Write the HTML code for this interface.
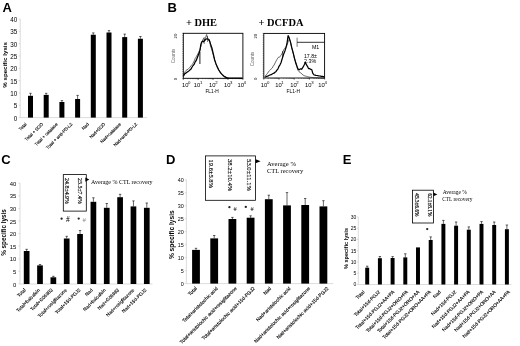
<!DOCTYPE html>
<html><head><meta charset="utf-8"><style>
html,body{margin:0;padding:0;background:#fff;overflow:hidden;width:520px;height:346px;}
svg{display:block;filter:blur(0.3px);}
</style></head><body>
<svg width="520" height="346" viewBox="0 0 520 346">
<rect width="520" height="346" fill="#fff"/>
<line x1="20.20" y1="19.00" x2="20.20" y2="117.60" stroke="#c4c4c4" stroke-width="0.6"/>
<line x1="18.70" y1="117.60" x2="20.20" y2="117.60" stroke="#c4c4c4" stroke-width="0.6"/>
<text x="17.30" y="120.67" font-size="6.3" text-anchor="end" font-family='"Liberation Sans", sans-serif' fill="#000">0</text>
<line x1="18.70" y1="105.27" x2="20.20" y2="105.27" stroke="#c4c4c4" stroke-width="0.6"/>
<text x="17.30" y="108.34" font-size="6.3" text-anchor="end" font-family='"Liberation Sans", sans-serif' fill="#000">5</text>
<line x1="18.70" y1="92.95" x2="20.20" y2="92.95" stroke="#c4c4c4" stroke-width="0.6"/>
<text x="17.30" y="96.02" font-size="6.3" text-anchor="end" font-family='"Liberation Sans", sans-serif' fill="#000">10</text>
<line x1="18.70" y1="80.62" x2="20.20" y2="80.62" stroke="#c4c4c4" stroke-width="0.6"/>
<text x="17.30" y="83.69" font-size="6.3" text-anchor="end" font-family='"Liberation Sans", sans-serif' fill="#000">15</text>
<line x1="18.70" y1="68.30" x2="20.20" y2="68.30" stroke="#c4c4c4" stroke-width="0.6"/>
<text x="17.30" y="71.37" font-size="6.3" text-anchor="end" font-family='"Liberation Sans", sans-serif' fill="#000">20</text>
<line x1="18.70" y1="55.97" x2="20.20" y2="55.97" stroke="#c4c4c4" stroke-width="0.6"/>
<text x="17.30" y="59.04" font-size="6.3" text-anchor="end" font-family='"Liberation Sans", sans-serif' fill="#000">25</text>
<line x1="18.70" y1="43.65" x2="20.20" y2="43.65" stroke="#c4c4c4" stroke-width="0.6"/>
<text x="17.30" y="46.72" font-size="6.3" text-anchor="end" font-family='"Liberation Sans", sans-serif' fill="#000">30</text>
<line x1="18.70" y1="31.33" x2="20.20" y2="31.33" stroke="#c4c4c4" stroke-width="0.6"/>
<text x="17.30" y="34.39" font-size="6.3" text-anchor="end" font-family='"Liberation Sans", sans-serif' fill="#000">35</text>
<line x1="18.70" y1="19.00" x2="20.20" y2="19.00" stroke="#c4c4c4" stroke-width="0.6"/>
<text x="17.30" y="22.07" font-size="6.3" text-anchor="end" font-family='"Liberation Sans", sans-serif' fill="#000">40</text>
<line x1="20.20" y1="117.60" x2="147.00" y2="117.60" stroke="#c4c4c4" stroke-width="0.6"/>
<rect x="28.00" y="95.80" width="5.00" height="21.80" fill="#000"/>
<line x1="30.50" y1="93.30" x2="30.50" y2="95.80" stroke="#000" stroke-width="0.6"/>
<line x1="29.30" y1="93.30" x2="31.70" y2="93.30" stroke="#000" stroke-width="0.6"/>
<rect x="43.70" y="94.90" width="5.00" height="22.70" fill="#000"/>
<line x1="46.20" y1="93.30" x2="46.20" y2="94.90" stroke="#000" stroke-width="0.6"/>
<line x1="45.00" y1="93.30" x2="47.40" y2="93.30" stroke="#000" stroke-width="0.6"/>
<rect x="59.40" y="102.00" width="5.00" height="15.60" fill="#000"/>
<line x1="61.90" y1="100.60" x2="61.90" y2="102.00" stroke="#000" stroke-width="0.6"/>
<line x1="60.70" y1="100.60" x2="63.10" y2="100.60" stroke="#000" stroke-width="0.6"/>
<rect x="75.10" y="99.00" width="5.00" height="18.60" fill="#000"/>
<line x1="77.60" y1="95.40" x2="77.60" y2="99.00" stroke="#000" stroke-width="0.6"/>
<line x1="76.40" y1="95.40" x2="78.80" y2="95.40" stroke="#000" stroke-width="0.6"/>
<rect x="90.80" y="34.75" width="5.00" height="82.85" fill="#000"/>
<line x1="93.30" y1="32.90" x2="93.30" y2="34.75" stroke="#000" stroke-width="0.6"/>
<line x1="92.10" y1="32.90" x2="94.50" y2="32.90" stroke="#000" stroke-width="0.6"/>
<rect x="106.50" y="32.50" width="5.00" height="85.10" fill="#000"/>
<line x1="109.00" y1="30.60" x2="109.00" y2="32.50" stroke="#000" stroke-width="0.6"/>
<line x1="107.80" y1="30.60" x2="110.20" y2="30.60" stroke="#000" stroke-width="0.6"/>
<rect x="122.20" y="37.10" width="5.00" height="80.50" fill="#000"/>
<line x1="124.70" y1="34.10" x2="124.70" y2="37.10" stroke="#000" stroke-width="0.6"/>
<line x1="123.50" y1="34.10" x2="125.90" y2="34.10" stroke="#000" stroke-width="0.6"/>
<rect x="137.90" y="38.75" width="5.00" height="78.85" fill="#000"/>
<line x1="140.40" y1="36.50" x2="140.40" y2="38.75" stroke="#000" stroke-width="0.6"/>
<line x1="139.20" y1="36.50" x2="141.60" y2="36.50" stroke="#000" stroke-width="0.6"/>
<text x="27.00" y="124.50" font-size="4.4" text-anchor="end" font-family='"Liberation Sans", sans-serif' fill="#000" transform="rotate(-45 27.00 124.50)" stroke="#000" stroke-width="0.12">Total</text>
<text x="43.40" y="124.50" font-size="4.4" text-anchor="end" font-family='"Liberation Sans", sans-serif' fill="#000" transform="rotate(-45 43.40 124.50)" stroke="#000" stroke-width="0.12">Total + SOD</text>
<text x="58.10" y="124.50" font-size="4.4" text-anchor="end" font-family='"Liberation Sans", sans-serif' fill="#000" transform="rotate(-45 58.10 124.50)" stroke="#000" stroke-width="0.12">Total + catalase</text>
<text x="72.80" y="124.50" font-size="4.4" text-anchor="end" font-family='"Liberation Sans", sans-serif' fill="#000" transform="rotate(-45 72.80 124.50)" stroke="#000" stroke-width="0.12">Total + anti-PD-L2</text>
<text x="89.20" y="124.50" font-size="4.4" text-anchor="end" font-family='"Liberation Sans", sans-serif' fill="#000" transform="rotate(-45 89.20 124.50)" stroke="#000" stroke-width="0.12">Nad</text>
<text x="105.60" y="124.50" font-size="4.4" text-anchor="end" font-family='"Liberation Sans", sans-serif' fill="#000" transform="rotate(-45 105.60 124.50)" stroke="#000" stroke-width="0.12">Nad+SOD</text>
<text x="121.20" y="124.50" font-size="4.4" text-anchor="end" font-family='"Liberation Sans", sans-serif' fill="#000" transform="rotate(-45 121.20 124.50)" stroke="#000" stroke-width="0.12">Nad+catalase</text>
<text x="137.60" y="124.50" font-size="4.4" text-anchor="end" font-family='"Liberation Sans", sans-serif' fill="#000" transform="rotate(-45 137.60 124.50)" stroke="#000" stroke-width="0.12">Nad+anti-PD-L2</text>
<text x="6.80" y="64.90" font-size="6.2" text-anchor="middle" font-family='"Liberation Sans", sans-serif' font-weight="bold" fill="#000" transform="rotate(-90 6.80 64.90)">% specific lysis</text>
<text x="2.60" y="11.60" font-size="13" text-anchor="start" font-family='"Liberation Sans", sans-serif' font-weight="bold" fill="#000">A</text>
<line x1="20.00" y1="183.20" x2="20.00" y2="284.00" stroke="#c4c4c4" stroke-width="0.6"/>
<line x1="18.50" y1="284.00" x2="20.00" y2="284.00" stroke="#c4c4c4" stroke-width="0.6"/>
<text x="16.20" y="286.62" font-size="5.9" text-anchor="end" font-family='"Liberation Sans", sans-serif' fill="#000">0</text>
<line x1="18.50" y1="271.40" x2="20.00" y2="271.40" stroke="#c4c4c4" stroke-width="0.6"/>
<text x="16.20" y="274.02" font-size="5.9" text-anchor="end" font-family='"Liberation Sans", sans-serif' fill="#000">5</text>
<line x1="18.50" y1="258.80" x2="20.00" y2="258.80" stroke="#c4c4c4" stroke-width="0.6"/>
<text x="16.20" y="261.42" font-size="5.9" text-anchor="end" font-family='"Liberation Sans", sans-serif' fill="#000">10</text>
<line x1="18.50" y1="246.20" x2="20.00" y2="246.20" stroke="#c4c4c4" stroke-width="0.6"/>
<text x="16.20" y="248.82" font-size="5.9" text-anchor="end" font-family='"Liberation Sans", sans-serif' fill="#000">15</text>
<line x1="18.50" y1="233.60" x2="20.00" y2="233.60" stroke="#c4c4c4" stroke-width="0.6"/>
<text x="16.20" y="236.22" font-size="5.9" text-anchor="end" font-family='"Liberation Sans", sans-serif' fill="#000">20</text>
<line x1="18.50" y1="221.00" x2="20.00" y2="221.00" stroke="#c4c4c4" stroke-width="0.6"/>
<text x="16.20" y="223.62" font-size="5.9" text-anchor="end" font-family='"Liberation Sans", sans-serif' fill="#000">25</text>
<line x1="18.50" y1="208.40" x2="20.00" y2="208.40" stroke="#c4c4c4" stroke-width="0.6"/>
<text x="16.20" y="211.02" font-size="5.9" text-anchor="end" font-family='"Liberation Sans", sans-serif' fill="#000">30</text>
<line x1="18.50" y1="195.80" x2="20.00" y2="195.80" stroke="#c4c4c4" stroke-width="0.6"/>
<text x="16.20" y="198.42" font-size="5.9" text-anchor="end" font-family='"Liberation Sans", sans-serif' fill="#000">35</text>
<line x1="18.50" y1="183.20" x2="20.00" y2="183.20" stroke="#c4c4c4" stroke-width="0.6"/>
<text x="16.20" y="185.82" font-size="5.9" text-anchor="end" font-family='"Liberation Sans", sans-serif' fill="#000">40</text>
<line x1="20.00" y1="284.00" x2="152.40" y2="284.00" stroke="#c4c4c4" stroke-width="0.6"/>
<rect x="23.80" y="251.00" width="5.70" height="33.00" fill="#000"/>
<line x1="26.65" y1="249.30" x2="26.65" y2="251.00" stroke="#000" stroke-width="0.6"/>
<line x1="25.45" y1="249.30" x2="27.85" y2="249.30" stroke="#000" stroke-width="0.6"/>
<rect x="37.15" y="265.40" width="5.70" height="18.60" fill="#000"/>
<line x1="40.00" y1="264.50" x2="40.00" y2="265.40" stroke="#000" stroke-width="0.6"/>
<line x1="38.80" y1="264.50" x2="41.20" y2="264.50" stroke="#000" stroke-width="0.6"/>
<rect x="50.50" y="277.30" width="5.70" height="6.70" fill="#000"/>
<line x1="53.35" y1="276.30" x2="53.35" y2="277.30" stroke="#000" stroke-width="0.6"/>
<line x1="52.15" y1="276.30" x2="54.55" y2="276.30" stroke="#000" stroke-width="0.6"/>
<rect x="63.85" y="238.50" width="5.70" height="45.50" fill="#000"/>
<line x1="66.70" y1="236.30" x2="66.70" y2="238.50" stroke="#000" stroke-width="0.6"/>
<line x1="65.50" y1="236.30" x2="67.90" y2="236.30" stroke="#000" stroke-width="0.6"/>
<rect x="77.20" y="234.00" width="5.70" height="50.00" fill="#000"/>
<line x1="80.05" y1="230.50" x2="80.05" y2="234.00" stroke="#000" stroke-width="0.6"/>
<line x1="78.85" y1="230.50" x2="81.25" y2="230.50" stroke="#000" stroke-width="0.6"/>
<rect x="90.55" y="201.80" width="5.70" height="82.20" fill="#000"/>
<line x1="93.40" y1="197.80" x2="93.40" y2="201.80" stroke="#000" stroke-width="0.6"/>
<line x1="92.20" y1="197.80" x2="94.60" y2="197.80" stroke="#000" stroke-width="0.6"/>
<rect x="103.90" y="207.80" width="5.70" height="76.20" fill="#000"/>
<line x1="106.75" y1="203.50" x2="106.75" y2="207.80" stroke="#000" stroke-width="0.6"/>
<line x1="105.55" y1="203.50" x2="107.95" y2="203.50" stroke="#000" stroke-width="0.6"/>
<rect x="117.25" y="197.20" width="5.70" height="86.80" fill="#000"/>
<line x1="120.10" y1="194.30" x2="120.10" y2="197.20" stroke="#000" stroke-width="0.6"/>
<line x1="118.90" y1="194.30" x2="121.30" y2="194.30" stroke="#000" stroke-width="0.6"/>
<rect x="130.60" y="206.40" width="5.70" height="77.60" fill="#000"/>
<line x1="133.45" y1="200.90" x2="133.45" y2="206.40" stroke="#000" stroke-width="0.6"/>
<line x1="132.25" y1="200.90" x2="134.65" y2="200.90" stroke="#000" stroke-width="0.6"/>
<rect x="143.95" y="207.80" width="5.70" height="76.20" fill="#000"/>
<line x1="146.80" y1="203.00" x2="146.80" y2="207.80" stroke="#000" stroke-width="0.6"/>
<line x1="145.60" y1="203.00" x2="148.00" y2="203.00" stroke="#000" stroke-width="0.6"/>
<text x="26.00" y="290.30" font-size="4.7" text-anchor="end" font-family='"Liberation Sans", sans-serif' fill="#000" transform="rotate(-45 26.00 290.30)" stroke="#000" stroke-width="0.12">Total</text>
<text x="40.40" y="290.30" font-size="4.7" text-anchor="end" font-family='"Liberation Sans", sans-serif' fill="#000" transform="rotate(-45 40.40 290.30)" stroke="#000" stroke-width="0.12">Total+baicalein</text>
<text x="53.00" y="290.30" font-size="4.7" text-anchor="end" font-family='"Liberation Sans", sans-serif' fill="#000" transform="rotate(-45 53.00 290.30)" stroke="#000" stroke-width="0.12">Total+G&#246;6983</text>
<text x="67.30" y="290.30" font-size="4.7" text-anchor="end" font-family='"Liberation Sans", sans-serif' fill="#000" transform="rotate(-45 67.30 290.30)" stroke="#000" stroke-width="0.12">Total+rosiglitazone</text>
<text x="80.80" y="290.30" font-size="4.7" text-anchor="end" font-family='"Liberation Sans", sans-serif' fill="#000" transform="rotate(-45 80.80 290.30)" stroke="#000" stroke-width="0.12">Total+15d-PGJ2</text>
<text x="93.00" y="290.30" font-size="4.7" text-anchor="end" font-family='"Liberation Sans", sans-serif' fill="#000" transform="rotate(-45 93.00 290.30)" stroke="#000" stroke-width="0.12">Nad</text>
<text x="106.20" y="290.30" font-size="4.7" text-anchor="end" font-family='"Liberation Sans", sans-serif' fill="#000" transform="rotate(-45 106.20 290.30)" stroke="#000" stroke-width="0.12">Nad+baicalein</text>
<text x="119.40" y="290.30" font-size="4.7" text-anchor="end" font-family='"Liberation Sans", sans-serif' fill="#000" transform="rotate(-45 119.40 290.30)" stroke="#000" stroke-width="0.12">Nad+G&#246;6983</text>
<text x="134.70" y="290.30" font-size="4.7" text-anchor="end" font-family='"Liberation Sans", sans-serif' fill="#000" transform="rotate(-45 134.70 290.30)" stroke="#000" stroke-width="0.12">Nad+rosiglitazone</text>
<text x="146.80" y="290.30" font-size="4.7" text-anchor="end" font-family='"Liberation Sans", sans-serif' fill="#000" transform="rotate(-45 146.80 290.30)" stroke="#000" stroke-width="0.12">Nad+15d-PGJ2</text>
<text x="6.00" y="232.50" font-size="6.3" text-anchor="middle" font-family='"Liberation Sans", sans-serif' font-weight="bold" fill="#000" transform="rotate(-90 6.00 232.50)">% specific lysis</text>
<text x="1.20" y="163.80" font-size="13" text-anchor="start" font-family='"Liberation Sans", sans-serif' font-weight="bold" fill="#000">C</text>
<line x1="186.40" y1="179.80" x2="186.40" y2="283.60" stroke="#c4c4c4" stroke-width="0.6"/>
<line x1="184.90" y1="283.60" x2="186.40" y2="283.60" stroke="#c4c4c4" stroke-width="0.6"/>
<text x="183.80" y="285.54" font-size="5.4" text-anchor="end" font-family='"Liberation Sans", sans-serif' fill="#000">0</text>
<line x1="184.90" y1="270.62" x2="186.40" y2="270.62" stroke="#c4c4c4" stroke-width="0.6"/>
<text x="183.80" y="272.57" font-size="5.4" text-anchor="end" font-family='"Liberation Sans", sans-serif' fill="#000">5</text>
<line x1="184.90" y1="257.65" x2="186.40" y2="257.65" stroke="#c4c4c4" stroke-width="0.6"/>
<text x="183.80" y="259.59" font-size="5.4" text-anchor="end" font-family='"Liberation Sans", sans-serif' fill="#000">10</text>
<line x1="184.90" y1="244.68" x2="186.40" y2="244.68" stroke="#c4c4c4" stroke-width="0.6"/>
<text x="183.80" y="246.62" font-size="5.4" text-anchor="end" font-family='"Liberation Sans", sans-serif' fill="#000">15</text>
<line x1="184.90" y1="231.70" x2="186.40" y2="231.70" stroke="#c4c4c4" stroke-width="0.6"/>
<text x="183.80" y="233.64" font-size="5.4" text-anchor="end" font-family='"Liberation Sans", sans-serif' fill="#000">20</text>
<line x1="184.90" y1="218.73" x2="186.40" y2="218.73" stroke="#c4c4c4" stroke-width="0.6"/>
<text x="183.80" y="220.67" font-size="5.4" text-anchor="end" font-family='"Liberation Sans", sans-serif' fill="#000">25</text>
<line x1="184.90" y1="205.75" x2="186.40" y2="205.75" stroke="#c4c4c4" stroke-width="0.6"/>
<text x="183.80" y="207.69" font-size="5.4" text-anchor="end" font-family='"Liberation Sans", sans-serif' fill="#000">30</text>
<line x1="184.90" y1="192.78" x2="186.40" y2="192.78" stroke="#c4c4c4" stroke-width="0.6"/>
<text x="183.80" y="194.72" font-size="5.4" text-anchor="end" font-family='"Liberation Sans", sans-serif' fill="#000">35</text>
<line x1="184.90" y1="179.80" x2="186.40" y2="179.80" stroke="#c4c4c4" stroke-width="0.6"/>
<text x="183.80" y="181.74" font-size="5.4" text-anchor="end" font-family='"Liberation Sans", sans-serif' fill="#000">40</text>
<line x1="186.40" y1="283.60" x2="333.30" y2="283.60" stroke="#c4c4c4" stroke-width="0.6"/>
<rect x="192.10" y="249.90" width="7.80" height="33.70" fill="#000"/>
<line x1="196.00" y1="248.30" x2="196.00" y2="249.90" stroke="#000" stroke-width="0.6"/>
<line x1="194.80" y1="248.30" x2="197.20" y2="248.30" stroke="#000" stroke-width="0.6"/>
<rect x="210.30" y="238.40" width="7.80" height="45.20" fill="#000"/>
<line x1="214.20" y1="235.50" x2="214.20" y2="238.40" stroke="#000" stroke-width="0.6"/>
<line x1="213.00" y1="235.50" x2="215.40" y2="235.50" stroke="#000" stroke-width="0.6"/>
<rect x="228.50" y="219.00" width="7.80" height="64.60" fill="#000"/>
<line x1="232.40" y1="217.40" x2="232.40" y2="219.00" stroke="#000" stroke-width="0.6"/>
<line x1="231.20" y1="217.40" x2="233.60" y2="217.40" stroke="#000" stroke-width="0.6"/>
<rect x="246.70" y="217.70" width="7.80" height="65.90" fill="#000"/>
<line x1="250.60" y1="215.80" x2="250.60" y2="217.70" stroke="#000" stroke-width="0.6"/>
<line x1="249.40" y1="215.80" x2="251.80" y2="215.80" stroke="#000" stroke-width="0.6"/>
<rect x="264.90" y="199.20" width="7.80" height="84.40" fill="#000"/>
<line x1="268.80" y1="195.20" x2="268.80" y2="199.20" stroke="#000" stroke-width="0.6"/>
<line x1="267.60" y1="195.20" x2="270.00" y2="195.20" stroke="#000" stroke-width="0.6"/>
<rect x="283.10" y="205.40" width="7.80" height="78.20" fill="#000"/>
<line x1="287.00" y1="192.60" x2="287.00" y2="205.40" stroke="#000" stroke-width="0.6"/>
<line x1="285.80" y1="192.60" x2="288.20" y2="192.60" stroke="#000" stroke-width="0.6"/>
<rect x="301.30" y="205.00" width="7.80" height="78.60" fill="#000"/>
<line x1="305.20" y1="198.50" x2="305.20" y2="205.00" stroke="#000" stroke-width="0.6"/>
<line x1="304.00" y1="198.50" x2="306.40" y2="198.50" stroke="#000" stroke-width="0.6"/>
<rect x="319.50" y="206.40" width="7.80" height="77.20" fill="#000"/>
<line x1="323.40" y1="200.70" x2="323.40" y2="206.40" stroke="#000" stroke-width="0.6"/>
<line x1="322.20" y1="200.70" x2="324.60" y2="200.70" stroke="#000" stroke-width="0.6"/>
<text x="197.40" y="288.80" font-size="4.9" text-anchor="end" font-family='"Liberation Sans", sans-serif' fill="#000" transform="rotate(-45 197.40 288.80)" stroke="#000" stroke-width="0.12">Total</text>
<text x="218.30" y="288.80" font-size="4.9" text-anchor="end" font-family='"Liberation Sans", sans-serif' fill="#000" transform="rotate(-45 218.30 288.80)" stroke="#000" stroke-width="0.12">Total+aristolochic acid</text>
<text x="237.10" y="288.80" font-size="4.9" text-anchor="end" font-family='"Liberation Sans", sans-serif' fill="#000" transform="rotate(-45 237.10 288.80)" stroke="#000" stroke-width="0.12">Total+aristolochic acid+rosiglitazone</text>
<text x="255.30" y="288.80" font-size="4.9" text-anchor="end" font-family='"Liberation Sans", sans-serif' fill="#000" transform="rotate(-45 255.30 288.80)" stroke="#000" stroke-width="0.12">Total+aristolochic acid+15d-PGJ2</text>
<text x="271.50" y="288.80" font-size="4.9" text-anchor="end" font-family='"Liberation Sans", sans-serif' fill="#000" transform="rotate(-45 271.50 288.80)" stroke="#000" stroke-width="0.12">Nad</text>
<text x="291.00" y="288.80" font-size="4.9" text-anchor="end" font-family='"Liberation Sans", sans-serif' fill="#000" transform="rotate(-45 291.00 288.80)" stroke="#000" stroke-width="0.12">Nad+aristolochic acid</text>
<text x="310.50" y="288.80" font-size="4.9" text-anchor="end" font-family='"Liberation Sans", sans-serif' fill="#000" transform="rotate(-45 310.50 288.80)" stroke="#000" stroke-width="0.12">Nad+aristolochic acid+rosiglitazone</text>
<text x="329.00" y="288.80" font-size="4.9" text-anchor="end" font-family='"Liberation Sans", sans-serif' fill="#000" transform="rotate(-45 329.00 288.80)" stroke="#000" stroke-width="0.12">Nad+aristolochic acid+15d-PGJ2</text>
<text x="174.00" y="234.70" font-size="6.6" text-anchor="middle" font-family='"Liberation Sans", sans-serif' font-weight="bold" fill="#000" transform="rotate(-90 174.00 234.70)">% specific lysis</text>
<text x="166.00" y="164.20" font-size="13" text-anchor="start" font-family='"Liberation Sans", sans-serif' font-weight="bold" fill="#000">D</text>
<line x1="358.30" y1="216.90" x2="358.30" y2="284.50" stroke="#c4c4c4" stroke-width="0.6"/>
<line x1="356.80" y1="284.50" x2="358.30" y2="284.50" stroke="#c4c4c4" stroke-width="0.6"/>
<text x="356.30" y="286.30" font-size="5.0" text-anchor="end" font-family='"Liberation Sans", sans-serif' fill="#000">0</text>
<line x1="356.80" y1="273.23" x2="358.30" y2="273.23" stroke="#c4c4c4" stroke-width="0.6"/>
<text x="356.30" y="275.03" font-size="5.0" text-anchor="end" font-family='"Liberation Sans", sans-serif' fill="#000">5</text>
<line x1="356.80" y1="261.97" x2="358.30" y2="261.97" stroke="#c4c4c4" stroke-width="0.6"/>
<text x="356.30" y="263.77" font-size="5.0" text-anchor="end" font-family='"Liberation Sans", sans-serif' fill="#000">10</text>
<line x1="356.80" y1="250.70" x2="358.30" y2="250.70" stroke="#c4c4c4" stroke-width="0.6"/>
<text x="356.30" y="252.50" font-size="5.0" text-anchor="end" font-family='"Liberation Sans", sans-serif' fill="#000">15</text>
<line x1="356.80" y1="239.43" x2="358.30" y2="239.43" stroke="#c4c4c4" stroke-width="0.6"/>
<text x="356.30" y="241.23" font-size="5.0" text-anchor="end" font-family='"Liberation Sans", sans-serif' fill="#000">20</text>
<line x1="356.80" y1="228.17" x2="358.30" y2="228.17" stroke="#c4c4c4" stroke-width="0.6"/>
<text x="356.30" y="229.97" font-size="5.0" text-anchor="end" font-family='"Liberation Sans", sans-serif' fill="#000">25</text>
<line x1="356.80" y1="216.90" x2="358.30" y2="216.90" stroke="#c4c4c4" stroke-width="0.6"/>
<text x="356.30" y="218.70" font-size="5.0" text-anchor="end" font-family='"Liberation Sans", sans-serif' fill="#000">30</text>
<line x1="358.30" y1="284.50" x2="511.40" y2="284.50" stroke="#c4c4c4" stroke-width="0.6"/>
<rect x="365.22" y="267.70" width="3.95" height="16.80" fill="#000"/>
<line x1="367.20" y1="266.20" x2="367.20" y2="267.70" stroke="#000" stroke-width="0.6"/>
<line x1="366.00" y1="266.20" x2="368.40" y2="266.20" stroke="#000" stroke-width="0.6"/>
<rect x="377.92" y="258.20" width="3.95" height="26.30" fill="#000"/>
<line x1="379.90" y1="256.50" x2="379.90" y2="258.20" stroke="#000" stroke-width="0.6"/>
<line x1="378.70" y1="256.50" x2="381.10" y2="256.50" stroke="#000" stroke-width="0.6"/>
<rect x="390.62" y="258.00" width="3.95" height="26.50" fill="#000"/>
<line x1="392.60" y1="256.60" x2="392.60" y2="258.00" stroke="#000" stroke-width="0.6"/>
<line x1="391.40" y1="256.60" x2="393.80" y2="256.60" stroke="#000" stroke-width="0.6"/>
<rect x="403.32" y="257.40" width="3.95" height="27.10" fill="#000"/>
<line x1="405.30" y1="253.80" x2="405.30" y2="257.40" stroke="#000" stroke-width="0.6"/>
<line x1="404.10" y1="253.80" x2="406.50" y2="253.80" stroke="#000" stroke-width="0.6"/>
<rect x="416.02" y="247.40" width="3.95" height="37.10" fill="#000"/>
<rect x="428.72" y="240.00" width="3.95" height="44.50" fill="#000"/>
<line x1="430.70" y1="236.90" x2="430.70" y2="240.00" stroke="#000" stroke-width="0.6"/>
<line x1="429.50" y1="236.90" x2="431.90" y2="236.90" stroke="#000" stroke-width="0.6"/>
<rect x="441.42" y="223.90" width="3.95" height="60.60" fill="#000"/>
<line x1="443.40" y1="220.40" x2="443.40" y2="223.90" stroke="#000" stroke-width="0.6"/>
<line x1="442.20" y1="220.40" x2="444.60" y2="220.40" stroke="#000" stroke-width="0.6"/>
<rect x="454.12" y="225.70" width="3.95" height="58.80" fill="#000"/>
<line x1="456.10" y1="222.00" x2="456.10" y2="225.70" stroke="#000" stroke-width="0.6"/>
<line x1="454.90" y1="222.00" x2="457.30" y2="222.00" stroke="#000" stroke-width="0.6"/>
<rect x="466.82" y="229.70" width="3.95" height="54.80" fill="#000"/>
<line x1="468.80" y1="226.90" x2="468.80" y2="229.70" stroke="#000" stroke-width="0.6"/>
<line x1="467.60" y1="226.90" x2="470.00" y2="226.90" stroke="#000" stroke-width="0.6"/>
<rect x="479.52" y="223.90" width="3.95" height="60.60" fill="#000"/>
<line x1="481.50" y1="221.60" x2="481.50" y2="223.90" stroke="#000" stroke-width="0.6"/>
<line x1="480.30" y1="221.60" x2="482.70" y2="221.60" stroke="#000" stroke-width="0.6"/>
<rect x="492.22" y="225.00" width="3.95" height="59.50" fill="#000"/>
<line x1="494.20" y1="222.00" x2="494.20" y2="225.00" stroke="#000" stroke-width="0.6"/>
<line x1="493.00" y1="222.00" x2="495.40" y2="222.00" stroke="#000" stroke-width="0.6"/>
<rect x="504.92" y="229.20" width="3.95" height="55.30" fill="#000"/>
<line x1="506.90" y1="225.00" x2="506.90" y2="229.20" stroke="#000" stroke-width="0.6"/>
<line x1="505.70" y1="225.00" x2="508.10" y2="225.00" stroke="#000" stroke-width="0.6"/>
<text x="365.00" y="292.30" font-size="4.8" text-anchor="end" font-family='"Liberation Sans", sans-serif' fill="#000" transform="rotate(-45 365.00 292.30)" stroke="#000" stroke-width="0.12">Total</text>
<text x="380.40" y="292.30" font-size="4.8" text-anchor="end" font-family='"Liberation Sans", sans-serif' fill="#000" transform="rotate(-45 380.40 292.30)" stroke="#000" stroke-width="0.12">Total+15d-PGJ2</text>
<text x="394.80" y="292.30" font-size="4.8" text-anchor="end" font-family='"Liberation Sans", sans-serif' fill="#000" transform="rotate(-45 394.80 292.30)" stroke="#000" stroke-width="0.12">Total+15d-PGJ2+AA+PA</text>
<text x="408.30" y="292.30" font-size="4.8" text-anchor="end" font-family='"Liberation Sans", sans-serif' fill="#000" transform="rotate(-45 408.30 292.30)" stroke="#000" stroke-width="0.12">Total+15d-PGJ2+ORO+PA</text>
<text x="419.80" y="292.30" font-size="4.8" text-anchor="end" font-family='"Liberation Sans", sans-serif' fill="#000" transform="rotate(-45 419.80 292.30)" stroke="#000" stroke-width="0.12">Total+15d-PGJ2+ORO+AA</text>
<text x="431.40" y="292.30" font-size="4.8" text-anchor="end" font-family='"Liberation Sans", sans-serif' fill="#000" transform="rotate(-45 431.40 292.30)" stroke="#000" stroke-width="0.12">Total+15d-PGJ2+ORO+AA+PA</text>
<text x="441.20" y="292.30" font-size="4.8" text-anchor="end" font-family='"Liberation Sans", sans-serif' fill="#000" transform="rotate(-45 441.20 292.30)" stroke="#000" stroke-width="0.12">Nad</text>
<text x="456.60" y="292.30" font-size="4.8" text-anchor="end" font-family='"Liberation Sans", sans-serif' fill="#000" transform="rotate(-45 456.60 292.30)" stroke="#000" stroke-width="0.12">Nad+15d-PGJ2</text>
<text x="470.00" y="292.30" font-size="4.8" text-anchor="end" font-family='"Liberation Sans", sans-serif' fill="#000" transform="rotate(-45 470.00 292.30)" stroke="#000" stroke-width="0.12">Nad+15d-PGJ2+AA+PA</text>
<text x="483.50" y="292.30" font-size="4.8" text-anchor="end" font-family='"Liberation Sans", sans-serif' fill="#000" transform="rotate(-45 483.50 292.30)" stroke="#000" stroke-width="0.12">Nad+15d-PGJ2+ORO+PA</text>
<text x="496.00" y="292.30" font-size="4.8" text-anchor="end" font-family='"Liberation Sans", sans-serif' fill="#000" transform="rotate(-45 496.00 292.30)" stroke="#000" stroke-width="0.12">Nad+15d-PGJ2+ORO+AA</text>
<text x="510.40" y="292.30" font-size="4.8" text-anchor="end" font-family='"Liberation Sans", sans-serif' fill="#000" transform="rotate(-45 510.40 292.30)" stroke="#000" stroke-width="0.12">Nad+15d-PGJ2+ORO+AA+PA</text>
<text x="348.20" y="248.50" font-size="5.55" text-anchor="middle" font-family='"Liberation Sans", sans-serif' font-weight="bold" fill="#000" transform="rotate(-90 348.20 248.50)">% specific lysis</text>
<text x="342.80" y="164.20" font-size="13" text-anchor="start" font-family='"Liberation Sans", sans-serif' font-weight="bold" fill="#000">E</text>
<rect x="63.30" y="174.60" width="23.00" height="36.50" fill="none" stroke="#000" stroke-width="0.8"/>
<text x="65.10" y="191.00" font-size="5.9" text-anchor="middle" font-family='"Liberation Serif", serif' fill="#000" transform="rotate(90 65.10 191.00)" stroke="#000" stroke-width="0.15">24.8&#177;4.9%</text>
<text x="78.20" y="191.00" font-size="5.9" text-anchor="middle" font-family='"Liberation Serif", serif' fill="#000" transform="rotate(90 78.20 191.00)" stroke="#000" stroke-width="0.15">25.5&#177;7.4%</text>
<polygon points="85.3,177.5 89.3,179.6 85.3,181.7" fill="#000"/>
<text x="91.10" y="183.70" font-size="6.0" text-anchor="start" font-family='"Liberation Serif", serif' fill="#000">Average % CTL recovery</text>
<circle cx="61.60" cy="218.70" r="1.15" fill="#222"/>
<text x="67.80" y="222.00" font-size="7.5" text-anchor="middle" font-family='"Liberation Serif", serif' fill="#000">#</text>
<circle cx="78.70" cy="218.60" r="1.15" fill="#222"/>
<text x="84.30" y="222.00" font-size="7.0" text-anchor="middle" font-family='"Liberation Serif", serif' fill="#888">#</text>
<rect x="205.40" y="155.90" width="50.10" height="44.40" fill="none" stroke="#000" stroke-width="0.8"/>
<text x="208.80" y="173.80" font-size="6.5" text-anchor="middle" font-family='"Liberation Serif", serif' fill="#000" transform="rotate(90 208.80 173.80)" stroke="#000" stroke-width="0.15">19.6&#177;5.8%</text>
<text x="228.30" y="175.10" font-size="6.6" text-anchor="middle" font-family='"Liberation Serif", serif' fill="#000" transform="rotate(90 228.30 175.10)" stroke="#000" stroke-width="0.15">38.2&#177;10.4%</text>
<text x="247.20" y="175.10" font-size="6.6" text-anchor="middle" font-family='"Liberation Serif", serif' fill="#000" transform="rotate(90 247.20 175.10)" stroke="#000" stroke-width="0.15">53.0&#177;11.1%</text>
<polygon points="255.6,159.2 260.6,161.2 255.6,163.2" fill="#000"/>
<text x="267.10" y="165.90" font-size="6.55" text-anchor="start" font-family='"Liberation Serif", serif' fill="#000">Average %</text>
<text x="266.90" y="173.20" font-size="6.5" text-anchor="start" font-family='"Liberation Serif", serif' fill="#000">CTL recovery</text>
<circle cx="229.40" cy="207.20" r="1.15" fill="#222"/>
<text x="235.20" y="210.50" font-size="6.5" text-anchor="middle" font-family='"Liberation Serif", serif' fill="#000">#</text>
<circle cx="245.80" cy="206.90" r="1.15" fill="#222"/>
<text x="252.00" y="210.80" font-size="6.5" text-anchor="middle" font-family='"Liberation Serif", serif' fill="#000">#</text>
<rect x="412.50" y="190.20" width="21.00" height="32.80" fill="none" stroke="#000" stroke-width="0.8"/>
<text x="415.40" y="204.80" font-size="5.25" text-anchor="middle" font-family='"Liberation Serif", serif' fill="#000" transform="rotate(90 415.40 204.80)" stroke="#000" stroke-width="0.15">45.3&#177;6.6%</text>
<text x="427.80" y="204.80" font-size="5.25" text-anchor="middle" font-family='"Liberation Serif", serif' fill="#000" transform="rotate(90 427.80 204.80)" stroke="#000" stroke-width="0.15">62.1&#177;8.1%</text>
<polygon points="433.4,192.6 437.3,194.4 433.4,196.2" fill="#000"/>
<text x="442.80" y="193.80" font-size="5.45" text-anchor="start" font-family='"Liberation Serif", serif' fill="#000">Average %</text>
<text x="442.20" y="200.80" font-size="5.4" text-anchor="start" font-family='"Liberation Serif", serif' fill="#000">CTL recovery</text>
<circle cx="427.20" cy="229.10" r="1.15" fill="#222"/>
<text x="167.40" y="11.90" font-size="13" text-anchor="start" font-family='"Liberation Sans", sans-serif' font-weight="bold" fill="#000">B</text>
<text x="185.90" y="26.20" font-size="10.4" text-anchor="start" font-family='"Liberation Serif", serif' font-weight="bold" fill="#000">+ DHE</text>
<text x="258.60" y="26.20" font-size="10.4" text-anchor="start" font-family='"Liberation Serif", serif' font-weight="bold" fill="#000">+ DCFDA</text>
<polyline points="183.4,75.1 185.0,71.8 186.0,70.4 187.0,69.7 188.0,69.3 189.0,68.2 190.0,67.2 191.0,65.8 192.1,64.6 193.1,63.1 194.1,61.1 195.2,58.5 196.2,56.9 197.3,54.9 198.7,52.3 200.0,49.2 201.4,44.6 202.4,40.6 203.5,38.4 204.6,40.2 205.6,37.4 206.6,34.5 207.5,38.0 208.5,40.7 209.5,40.3 210.5,46.0 211.9,50.0 213.3,55.1 214.6,60.1 216.0,63.9 217.4,67.8 219.0,70.8 220.0,72.3 221.0,73.7 222.0,74.4 223.0,75.1 224.0,76.1 225.0,76.5 226.0,77.0 227.0,77.5 228.0,77.9 229.0,78.2" fill="none" stroke="#444" stroke-width="0.8" stroke-linejoin="round"/>
<polyline points="183.4,76.3 184.8,73.8 185.9,73.1 186.9,72.2 187.9,71.6 188.9,70.9 189.9,70.0 191.0,69.1 192.1,67.0 193.1,65.5 194.1,64.4 195.2,61.8 196.2,60.5 197.3,57.7 198.7,54.1 200.0,50.3 200.8,44.6 201.6,42.1 202.6,41.1 203.5,41.8 204.9,40.3 206.3,38.9 207.7,39.0 208.8,39.3 209.8,41.6 210.5,43.9 211.9,48.0 213.3,53.8 214.6,59.7 216.0,63.9 217.4,67.1 218.8,70.0 220.2,72.1 221.1,73.4 222.0,74.4 222.9,75.2 223.9,76.2 224.8,76.9 225.9,77.4 227.1,77.8 228.5,78.2 229.3,78.2 230.1,78.2 231.0,78.2 231.8,78.2 232.6,78.2 233.4,78.2 234.2,78.2 235.0,78.2 235.9,78.2 236.7,78.2 237.5,78.2 238.3,78.2 239.1,78.2 239.9,78.2 240.8,78.2 241.6,78.2 242.4,78.2" fill="none" stroke="#000" stroke-width="1.25" stroke-linejoin="round"/>
<rect x="183.30" y="33.30" width="59.60" height="45.00" fill="none" stroke="#000" stroke-width="0.9"/>
<line x1="182.10" y1="78.30" x2="183.30" y2="78.30" stroke="#000" stroke-width="0.35"/>
<line x1="182.10" y1="76.05" x2="183.30" y2="76.05" stroke="#000" stroke-width="0.35"/>
<line x1="182.10" y1="73.80" x2="183.30" y2="73.80" stroke="#000" stroke-width="0.35"/>
<line x1="182.10" y1="71.55" x2="183.30" y2="71.55" stroke="#000" stroke-width="0.35"/>
<line x1="182.10" y1="69.30" x2="183.30" y2="69.30" stroke="#000" stroke-width="0.35"/>
<line x1="182.10" y1="67.05" x2="183.30" y2="67.05" stroke="#000" stroke-width="0.35"/>
<line x1="182.10" y1="64.80" x2="183.30" y2="64.80" stroke="#000" stroke-width="0.35"/>
<line x1="182.10" y1="62.55" x2="183.30" y2="62.55" stroke="#000" stroke-width="0.35"/>
<line x1="182.10" y1="60.30" x2="183.30" y2="60.30" stroke="#000" stroke-width="0.35"/>
<line x1="182.10" y1="58.05" x2="183.30" y2="58.05" stroke="#000" stroke-width="0.35"/>
<line x1="182.10" y1="55.80" x2="183.30" y2="55.80" stroke="#000" stroke-width="0.35"/>
<line x1="182.10" y1="53.55" x2="183.30" y2="53.55" stroke="#000" stroke-width="0.35"/>
<line x1="182.10" y1="51.30" x2="183.30" y2="51.30" stroke="#000" stroke-width="0.35"/>
<line x1="182.10" y1="49.05" x2="183.30" y2="49.05" stroke="#000" stroke-width="0.35"/>
<line x1="182.10" y1="46.80" x2="183.30" y2="46.80" stroke="#000" stroke-width="0.35"/>
<line x1="182.10" y1="44.55" x2="183.30" y2="44.55" stroke="#000" stroke-width="0.35"/>
<line x1="182.10" y1="42.30" x2="183.30" y2="42.30" stroke="#000" stroke-width="0.35"/>
<line x1="182.10" y1="40.05" x2="183.30" y2="40.05" stroke="#000" stroke-width="0.35"/>
<line x1="182.10" y1="37.80" x2="183.30" y2="37.80" stroke="#000" stroke-width="0.35"/>
<line x1="182.10" y1="35.55" x2="183.30" y2="35.55" stroke="#000" stroke-width="0.35"/>
<line x1="182.10" y1="33.30" x2="183.30" y2="33.30" stroke="#000" stroke-width="0.35"/>
<line x1="183.30" y1="78.30" x2="183.30" y2="79.90" stroke="#000" stroke-width="0.6"/>
<text x="185.20" y="87.40" font-size="5.8" text-anchor="middle" font-family='"Liberation Sans", sans-serif' fill="#000">10</text>
<text x="188.10" y="83.90" font-size="4.3" text-anchor="start" font-family='"Liberation Sans", sans-serif' fill="#000">0</text>
<line x1="187.79" y1="78.30" x2="187.79" y2="79.20" stroke="#000" stroke-width="0.35"/>
<line x1="190.41" y1="78.30" x2="190.41" y2="79.20" stroke="#000" stroke-width="0.35"/>
<line x1="192.27" y1="78.30" x2="192.27" y2="79.20" stroke="#000" stroke-width="0.35"/>
<line x1="193.71" y1="78.30" x2="193.71" y2="79.20" stroke="#000" stroke-width="0.35"/>
<line x1="194.89" y1="78.30" x2="194.89" y2="79.20" stroke="#000" stroke-width="0.35"/>
<line x1="195.89" y1="78.30" x2="195.89" y2="79.20" stroke="#000" stroke-width="0.35"/>
<line x1="196.76" y1="78.30" x2="196.76" y2="79.20" stroke="#000" stroke-width="0.35"/>
<line x1="197.52" y1="78.30" x2="197.52" y2="79.20" stroke="#000" stroke-width="0.35"/>
<line x1="198.20" y1="78.30" x2="198.20" y2="79.90" stroke="#000" stroke-width="0.6"/>
<text x="197.00" y="87.40" font-size="5.8" text-anchor="middle" font-family='"Liberation Sans", sans-serif' fill="#000">10</text>
<text x="199.90" y="83.90" font-size="4.3" text-anchor="start" font-family='"Liberation Sans", sans-serif' fill="#000">1</text>
<line x1="202.69" y1="78.30" x2="202.69" y2="79.20" stroke="#000" stroke-width="0.35"/>
<line x1="205.31" y1="78.30" x2="205.31" y2="79.20" stroke="#000" stroke-width="0.35"/>
<line x1="207.17" y1="78.30" x2="207.17" y2="79.20" stroke="#000" stroke-width="0.35"/>
<line x1="208.61" y1="78.30" x2="208.61" y2="79.20" stroke="#000" stroke-width="0.35"/>
<line x1="209.79" y1="78.30" x2="209.79" y2="79.20" stroke="#000" stroke-width="0.35"/>
<line x1="210.79" y1="78.30" x2="210.79" y2="79.20" stroke="#000" stroke-width="0.35"/>
<line x1="211.66" y1="78.30" x2="211.66" y2="79.20" stroke="#000" stroke-width="0.35"/>
<line x1="212.42" y1="78.30" x2="212.42" y2="79.20" stroke="#000" stroke-width="0.35"/>
<line x1="213.10" y1="78.30" x2="213.10" y2="79.90" stroke="#000" stroke-width="0.6"/>
<text x="212.30" y="87.40" font-size="5.8" text-anchor="middle" font-family='"Liberation Sans", sans-serif' fill="#000">10</text>
<text x="215.20" y="83.90" font-size="4.3" text-anchor="start" font-family='"Liberation Sans", sans-serif' fill="#000">2</text>
<line x1="217.59" y1="78.30" x2="217.59" y2="79.20" stroke="#000" stroke-width="0.35"/>
<line x1="220.21" y1="78.30" x2="220.21" y2="79.20" stroke="#000" stroke-width="0.35"/>
<line x1="222.07" y1="78.30" x2="222.07" y2="79.20" stroke="#000" stroke-width="0.35"/>
<line x1="223.51" y1="78.30" x2="223.51" y2="79.20" stroke="#000" stroke-width="0.35"/>
<line x1="224.69" y1="78.30" x2="224.69" y2="79.20" stroke="#000" stroke-width="0.35"/>
<line x1="225.69" y1="78.30" x2="225.69" y2="79.20" stroke="#000" stroke-width="0.35"/>
<line x1="226.56" y1="78.30" x2="226.56" y2="79.20" stroke="#000" stroke-width="0.35"/>
<line x1="227.32" y1="78.30" x2="227.32" y2="79.20" stroke="#000" stroke-width="0.35"/>
<line x1="228.00" y1="78.30" x2="228.00" y2="79.90" stroke="#000" stroke-width="0.6"/>
<text x="227.20" y="87.40" font-size="5.8" text-anchor="middle" font-family='"Liberation Sans", sans-serif' fill="#000">10</text>
<text x="230.10" y="83.90" font-size="4.3" text-anchor="start" font-family='"Liberation Sans", sans-serif' fill="#000">3</text>
<line x1="232.49" y1="78.30" x2="232.49" y2="79.20" stroke="#000" stroke-width="0.35"/>
<line x1="235.11" y1="78.30" x2="235.11" y2="79.20" stroke="#000" stroke-width="0.35"/>
<line x1="236.97" y1="78.30" x2="236.97" y2="79.20" stroke="#000" stroke-width="0.35"/>
<line x1="238.41" y1="78.30" x2="238.41" y2="79.20" stroke="#000" stroke-width="0.35"/>
<line x1="239.59" y1="78.30" x2="239.59" y2="79.20" stroke="#000" stroke-width="0.35"/>
<line x1="240.59" y1="78.30" x2="240.59" y2="79.20" stroke="#000" stroke-width="0.35"/>
<line x1="241.46" y1="78.30" x2="241.46" y2="79.20" stroke="#000" stroke-width="0.35"/>
<line x1="242.22" y1="78.30" x2="242.22" y2="79.20" stroke="#000" stroke-width="0.35"/>
<line x1="242.90" y1="78.30" x2="242.90" y2="79.90" stroke="#000" stroke-width="0.6"/>
<text x="240.70" y="87.40" font-size="5.8" text-anchor="middle" font-family='"Liberation Sans", sans-serif' fill="#000">10</text>
<text x="243.60" y="83.90" font-size="4.3" text-anchor="start" font-family='"Liberation Sans", sans-serif' fill="#000">4</text>
<text x="212.10" y="92.50" font-size="4.8" text-anchor="middle" font-family='"Liberation Sans", sans-serif' fill="#000">FL1-H</text>
<text x="174.80" y="56.00" font-size="4.6" text-anchor="middle" font-family='"Liberation Sans", sans-serif' fill="#666" transform="rotate(-90 174.80 56.00)">Counts</text>
<text x="177.30" y="36.10" font-size="4.2" text-anchor="middle" font-family='"Liberation Sans", sans-serif' fill="#000" transform="rotate(-90 177.30 36.10)">20</text>
<text x="177.30" y="79.10" font-size="4.2" text-anchor="middle" font-family='"Liberation Sans", sans-serif' fill="#000" transform="rotate(-90 177.30 79.10)">0</text>
<line x1="199.90" y1="52.00" x2="199.90" y2="64.00" stroke="#000" stroke-width="0.9"/>
<line x1="204.20" y1="37.00" x2="204.20" y2="44.00" stroke="#000" stroke-width="0.5"/>
<line x1="207.50" y1="36.00" x2="207.50" y2="42.00" stroke="#000" stroke-width="0.5"/>
<polyline points="264.8,76.3 265.7,75.3 266.6,74.5 267.5,73.4 268.4,71.9 269.4,70.7 270.3,69.9 271.2,68.9 272.2,68.0 273.1,66.3 274.1,65.0 275.2,62.8 276.2,60.8 277.3,58.9 278.6,57.1 279.6,57.2 280.7,55.6 281.8,53.8 282.8,52.0 283.9,49.4 284.9,48.2 285.9,46.8 287.0,45.0 288.4,41.2 289.2,39.3 290.4,41.8 291.8,47.7 293.2,53.3 294.6,58.6 296.0,62.9 296.9,66.9 297.9,70.0 299.0,71.7 300.2,72.5 301.1,73.2 302.0,74.0 302.9,75.0 303.9,75.5 304.8,75.9 305.8,76.2 306.7,76.4 307.6,76.6 308.5,76.9 309.5,77.1 310.4,77.3 311.2,77.4 312.0,77.5 312.8,77.5 313.6,77.6 314.4,77.7 315.2,77.7 316.0,77.8 316.8,77.8 317.7,77.8 318.5,77.9 319.3,77.9 320.1,77.9 321.0,77.9 321.8,77.9 322.6,78.0 323.5,78.0 324.3,78.0" fill="none" stroke="#444" stroke-width="0.8" stroke-linejoin="round"/>
<polyline points="264.8,77.1 265.7,76.8 266.6,76.4 267.5,76.1 268.4,75.8 269.4,75.2 270.3,74.8 271.2,74.7 272.2,74.0 273.1,73.5 274.0,73.2 275.0,72.2 275.9,71.7 276.9,70.1 278.0,68.9 279.0,66.3 280.0,64.8 281.1,62.4 282.1,59.0 283.5,54.6 284.9,51.0 286.3,46.6 287.2,42.1 288.1,35.6 289.0,37.2 290.4,41.6 291.8,47.9 293.2,52.8 294.6,58.8 296.0,63.8 296.9,66.1 297.9,68.9 299.3,69.8 300.6,68.8 301.6,69.3 303.0,67.2 304.4,64.5 305.3,62.4 306.7,65.2 307.6,66.6 308.5,68.6 309.4,68.5 310.4,69.1 311.8,69.7 312.7,73.1 314.1,75.0 315.0,75.1 316.0,75.4 316.9,75.5 317.8,75.7 318.7,75.8 319.6,76.0 320.5,76.1 321.5,76.3 322.4,76.4 323.4,76.6 324.3,76.9" fill="none" stroke="#000" stroke-width="1.25" stroke-linejoin="round"/>
<rect x="263.80" y="33.40" width="60.80" height="44.60" fill="none" stroke="#000" stroke-width="0.9"/>
<line x1="262.60" y1="78.00" x2="263.80" y2="78.00" stroke="#000" stroke-width="0.35"/>
<line x1="262.60" y1="75.77" x2="263.80" y2="75.77" stroke="#000" stroke-width="0.35"/>
<line x1="262.60" y1="73.54" x2="263.80" y2="73.54" stroke="#000" stroke-width="0.35"/>
<line x1="262.60" y1="71.31" x2="263.80" y2="71.31" stroke="#000" stroke-width="0.35"/>
<line x1="262.60" y1="69.08" x2="263.80" y2="69.08" stroke="#000" stroke-width="0.35"/>
<line x1="262.60" y1="66.85" x2="263.80" y2="66.85" stroke="#000" stroke-width="0.35"/>
<line x1="262.60" y1="64.62" x2="263.80" y2="64.62" stroke="#000" stroke-width="0.35"/>
<line x1="262.60" y1="62.39" x2="263.80" y2="62.39" stroke="#000" stroke-width="0.35"/>
<line x1="262.60" y1="60.16" x2="263.80" y2="60.16" stroke="#000" stroke-width="0.35"/>
<line x1="262.60" y1="57.93" x2="263.80" y2="57.93" stroke="#000" stroke-width="0.35"/>
<line x1="262.60" y1="55.70" x2="263.80" y2="55.70" stroke="#000" stroke-width="0.35"/>
<line x1="262.60" y1="53.47" x2="263.80" y2="53.47" stroke="#000" stroke-width="0.35"/>
<line x1="262.60" y1="51.24" x2="263.80" y2="51.24" stroke="#000" stroke-width="0.35"/>
<line x1="262.60" y1="49.01" x2="263.80" y2="49.01" stroke="#000" stroke-width="0.35"/>
<line x1="262.60" y1="46.78" x2="263.80" y2="46.78" stroke="#000" stroke-width="0.35"/>
<line x1="262.60" y1="44.55" x2="263.80" y2="44.55" stroke="#000" stroke-width="0.35"/>
<line x1="262.60" y1="42.32" x2="263.80" y2="42.32" stroke="#000" stroke-width="0.35"/>
<line x1="262.60" y1="40.09" x2="263.80" y2="40.09" stroke="#000" stroke-width="0.35"/>
<line x1="262.60" y1="37.86" x2="263.80" y2="37.86" stroke="#000" stroke-width="0.35"/>
<line x1="262.60" y1="35.63" x2="263.80" y2="35.63" stroke="#000" stroke-width="0.35"/>
<line x1="262.60" y1="33.40" x2="263.80" y2="33.40" stroke="#000" stroke-width="0.35"/>
<line x1="263.80" y1="78.00" x2="263.80" y2="79.60" stroke="#000" stroke-width="0.6"/>
<text x="264.00" y="87.40" font-size="5.8" text-anchor="middle" font-family='"Liberation Sans", sans-serif' fill="#000">10</text>
<text x="266.90" y="83.90" font-size="4.3" text-anchor="start" font-family='"Liberation Sans", sans-serif' fill="#000">0</text>
<line x1="268.38" y1="78.00" x2="268.38" y2="78.90" stroke="#000" stroke-width="0.35"/>
<line x1="271.05" y1="78.00" x2="271.05" y2="78.90" stroke="#000" stroke-width="0.35"/>
<line x1="272.95" y1="78.00" x2="272.95" y2="78.90" stroke="#000" stroke-width="0.35"/>
<line x1="274.42" y1="78.00" x2="274.42" y2="78.90" stroke="#000" stroke-width="0.35"/>
<line x1="275.63" y1="78.00" x2="275.63" y2="78.90" stroke="#000" stroke-width="0.35"/>
<line x1="276.65" y1="78.00" x2="276.65" y2="78.90" stroke="#000" stroke-width="0.35"/>
<line x1="277.53" y1="78.00" x2="277.53" y2="78.90" stroke="#000" stroke-width="0.35"/>
<line x1="278.30" y1="78.00" x2="278.30" y2="78.90" stroke="#000" stroke-width="0.35"/>
<line x1="279.00" y1="78.00" x2="279.00" y2="79.60" stroke="#000" stroke-width="0.6"/>
<text x="278.40" y="87.40" font-size="5.8" text-anchor="middle" font-family='"Liberation Sans", sans-serif' fill="#000">10</text>
<text x="281.30" y="83.90" font-size="4.3" text-anchor="start" font-family='"Liberation Sans", sans-serif' fill="#000">1</text>
<line x1="283.58" y1="78.00" x2="283.58" y2="78.90" stroke="#000" stroke-width="0.35"/>
<line x1="286.25" y1="78.00" x2="286.25" y2="78.90" stroke="#000" stroke-width="0.35"/>
<line x1="288.15" y1="78.00" x2="288.15" y2="78.90" stroke="#000" stroke-width="0.35"/>
<line x1="289.62" y1="78.00" x2="289.62" y2="78.90" stroke="#000" stroke-width="0.35"/>
<line x1="290.83" y1="78.00" x2="290.83" y2="78.90" stroke="#000" stroke-width="0.35"/>
<line x1="291.85" y1="78.00" x2="291.85" y2="78.90" stroke="#000" stroke-width="0.35"/>
<line x1="292.73" y1="78.00" x2="292.73" y2="78.90" stroke="#000" stroke-width="0.35"/>
<line x1="293.50" y1="78.00" x2="293.50" y2="78.90" stroke="#000" stroke-width="0.35"/>
<line x1="294.20" y1="78.00" x2="294.20" y2="79.60" stroke="#000" stroke-width="0.6"/>
<text x="293.40" y="87.40" font-size="5.8" text-anchor="middle" font-family='"Liberation Sans", sans-serif' fill="#000">10</text>
<text x="296.30" y="83.90" font-size="4.3" text-anchor="start" font-family='"Liberation Sans", sans-serif' fill="#000">2</text>
<line x1="298.78" y1="78.00" x2="298.78" y2="78.90" stroke="#000" stroke-width="0.35"/>
<line x1="301.45" y1="78.00" x2="301.45" y2="78.90" stroke="#000" stroke-width="0.35"/>
<line x1="303.35" y1="78.00" x2="303.35" y2="78.90" stroke="#000" stroke-width="0.35"/>
<line x1="304.82" y1="78.00" x2="304.82" y2="78.90" stroke="#000" stroke-width="0.35"/>
<line x1="306.03" y1="78.00" x2="306.03" y2="78.90" stroke="#000" stroke-width="0.35"/>
<line x1="307.05" y1="78.00" x2="307.05" y2="78.90" stroke="#000" stroke-width="0.35"/>
<line x1="307.93" y1="78.00" x2="307.93" y2="78.90" stroke="#000" stroke-width="0.35"/>
<line x1="308.70" y1="78.00" x2="308.70" y2="78.90" stroke="#000" stroke-width="0.35"/>
<line x1="309.40" y1="78.00" x2="309.40" y2="79.60" stroke="#000" stroke-width="0.6"/>
<text x="308.30" y="87.40" font-size="5.8" text-anchor="middle" font-family='"Liberation Sans", sans-serif' fill="#000">10</text>
<text x="311.20" y="83.90" font-size="4.3" text-anchor="start" font-family='"Liberation Sans", sans-serif' fill="#000">3</text>
<line x1="313.98" y1="78.00" x2="313.98" y2="78.90" stroke="#000" stroke-width="0.35"/>
<line x1="316.65" y1="78.00" x2="316.65" y2="78.90" stroke="#000" stroke-width="0.35"/>
<line x1="318.55" y1="78.00" x2="318.55" y2="78.90" stroke="#000" stroke-width="0.35"/>
<line x1="320.02" y1="78.00" x2="320.02" y2="78.90" stroke="#000" stroke-width="0.35"/>
<line x1="321.23" y1="78.00" x2="321.23" y2="78.90" stroke="#000" stroke-width="0.35"/>
<line x1="322.25" y1="78.00" x2="322.25" y2="78.90" stroke="#000" stroke-width="0.35"/>
<line x1="323.13" y1="78.00" x2="323.13" y2="78.90" stroke="#000" stroke-width="0.35"/>
<line x1="323.90" y1="78.00" x2="323.90" y2="78.90" stroke="#000" stroke-width="0.35"/>
<line x1="324.60" y1="78.00" x2="324.60" y2="79.60" stroke="#000" stroke-width="0.6"/>
<text x="321.50" y="87.40" font-size="5.8" text-anchor="middle" font-family='"Liberation Sans", sans-serif' fill="#000">10</text>
<text x="324.40" y="83.90" font-size="4.3" text-anchor="start" font-family='"Liberation Sans", sans-serif' fill="#000">4</text>
<text x="293.20" y="92.50" font-size="4.8" text-anchor="middle" font-family='"Liberation Sans", sans-serif' fill="#000">FL1-H</text>
<text x="253.70" y="59.00" font-size="4.6" text-anchor="middle" font-family='"Liberation Sans", sans-serif' fill="#666" transform="rotate(-90 253.70 59.00)">Counts</text>
<text x="257.40" y="36.20" font-size="4.2" text-anchor="middle" font-family='"Liberation Sans", sans-serif' fill="#000" transform="rotate(-90 257.40 36.20)">20</text>
<text x="257.40" y="78.80" font-size="4.2" text-anchor="middle" font-family='"Liberation Sans", sans-serif' fill="#000" transform="rotate(-90 257.40 78.80)">0</text>
<line x1="282.60" y1="51.00" x2="282.60" y2="57.50" stroke="#000" stroke-width="0.6"/>
<line x1="297.10" y1="37.70" x2="297.10" y2="46.90" stroke="#555" stroke-width="0.8"/>
<line x1="297.10" y1="42.30" x2="324.60" y2="42.30" stroke="#000" stroke-width="0.8"/>
<text x="315.60" y="48.80" font-size="5.3" text-anchor="middle" font-family='"Liberation Sans", sans-serif' fill="#000">M1</text>
<text x="310.40" y="57.90" font-size="5.2" text-anchor="middle" font-family='"Liberation Sans", sans-serif' fill="#000">17.8&#177;</text>
<text x="310.20" y="63.00" font-size="5.4" text-anchor="middle" font-family='"Liberation Sans", sans-serif' fill="#000">2.3%</text>
</svg>
</body></html>
